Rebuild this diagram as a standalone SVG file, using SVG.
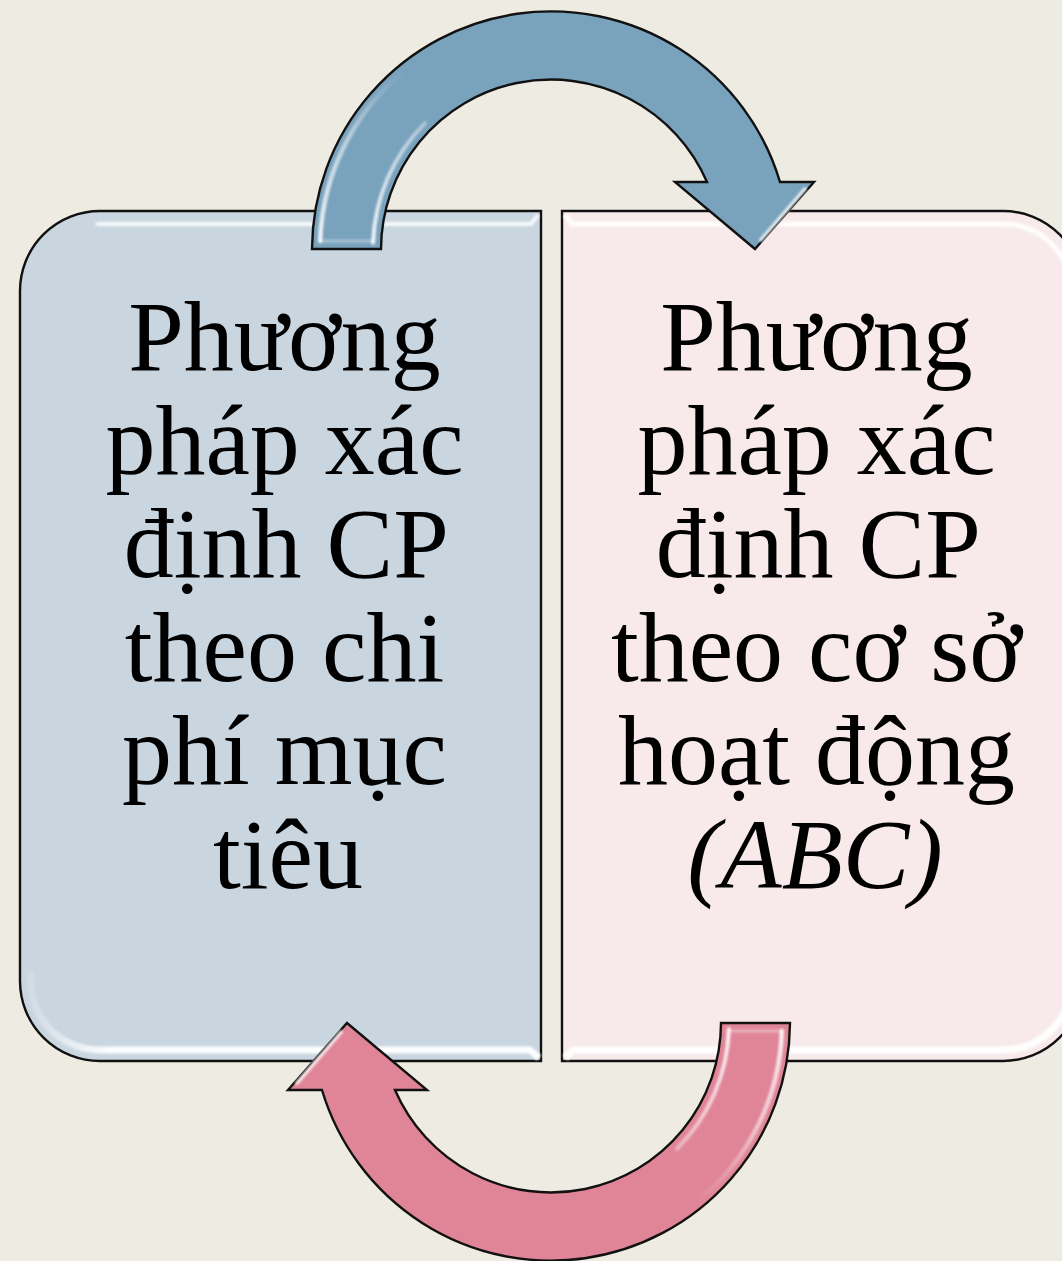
<svg xmlns="http://www.w3.org/2000/svg" width="1062" height="1261" viewBox="0 0 1062 1261">
  <defs>
    <style>
      .box { stroke: #111; stroke-width: 2.4; }
      .label { font-family: "Liberation Serif", "Times New Roman", serif; font-size: 100px; fill: #000; text-anchor: middle; }
      .arrow { stroke: #111; stroke-width: 2.4; stroke-linejoin: miter; }
      .gloss { fill: none; stroke-linecap: round; }
    </style>
    <!-- fade used by the glossy streaks on the curved arrows -->
    <linearGradient id="streakFade" gradientUnits="userSpaceOnUse" x1="0" y1="245" x2="0" y2="70">
      <stop offset="0" stop-color="#fff" stop-opacity="0.9"/>
      <stop offset="0.6" stop-color="#fff" stop-opacity="0.5"/>
      <stop offset="1" stop-color="#fff" stop-opacity="0"/>
    </linearGradient>
    <linearGradient id="edgeFadeL" gradientUnits="userSpaceOnUse" x1="30" y1="0" x2="110" y2="0">
      <stop offset="0" stop-color="#fff" stop-opacity="0.15"/>
      <stop offset="1" stop-color="#fff" stop-opacity="0.95"/>
    </linearGradient>
    <filter id="soft" x="-5%" y="-5%" width="110%" height="110%">
      <feGaussianBlur stdDeviation="1.2"/>
    </filter>
  </defs>

  <!-- page background -->
  <rect x="0" y="0" width="1062" height="1261" fill="#eeebe3"/>

  <!-- left panel -->
  <g id="node-target-cost">
    <path class="box" fill="#c9d6e0" d="M100,211 H541 V1061 H100 A80,80 0 0 1 20,981 V291 A80,80 0 0 1 100,211 Z"/>
    <g filter="url(#soft)">
      <path d="M96,224 H531 L538,215" fill="none" stroke="#fff" stroke-opacity="0.85" stroke-width="4"/>
      <path d="M31,972 A69,69 0 0 0 100,1050 H530 L539,1058" fill="none" stroke="url(#edgeFadeL)" stroke-width="7"/>
    </g>
    <text class="label">
      <tspan x="297" y="370">Phương</tspan>
      <tspan x="297" y="473.5">pháp xác</tspan>
      <tspan x="297" y="577">định CP</tspan>
      <tspan x="297" y="680.5">theo chi</tspan>
      <tspan x="297" y="784">phí mục</tspan>
      <tspan x="288" y="887.5">tiêu</tspan>
    </text>
  </g>

  <!-- right panel -->
  <g id="node-abc">
    <path class="box" fill="#f8eaeb" d="M562,211 H1003 A80,80 0 0 1 1083,291 V981 A80,80 0 0 1 1003,1061 H562 Z"/>
    <g filter="url(#soft)">
      <path d="M565,215 L572,224 H1003 A69,69 0 0 1 1072,293" fill="none" stroke="#fff" stroke-opacity="0.9" stroke-width="5"/>
      <path d="M565,1058 L573,1050 H1003 A69,69 0 0 0 1072,981" fill="none" stroke="#fff" stroke-opacity="0.95" stroke-width="7"/>
    </g>
    <text class="label">
      <tspan x="829" y="370">Phương</tspan>
      <tspan x="829" y="473.5">pháp xác</tspan>
      <tspan x="829" y="577">định CP</tspan>
      <tspan x="829" y="680.5">theo cơ sở</tspan>
      <tspan x="829" y="784">hoạt động</tspan>
      <tspan x="815" y="887.5" font-style="italic">(ABC)</tspan>
    </text>
  </g>

  <!-- curved connectors between the two panels -->
  <g id="connectors">
    <g id="arrow-top">
      <path class="arrow" fill="#79a2bd" d="M312,249 A239,239 0 0 1 780,182 L814,182 L755,249 L675,182 L707,182 A170,170 0 0 0 381,249 Z"/>
      <g filter="url(#soft)">
        <path class="gloss" stroke="url(#streakFade)" stroke-width="4.5" d="M320.1,241 A231,231 0 0 1 418.5,59.8"/>
        <path class="gloss" stroke="url(#streakFade)" stroke-width="4" d="M373.1,242.8 A178,178 0 0 1 425.1,123.1"/>
        <path class="gloss" stroke="#fff" stroke-opacity="0.75" stroke-width="4" d="M805,189 L761,240"/>
        <path class="gloss" stroke="#fff" stroke-opacity="0.35" stroke-width="3" d="M322,241 H372"/>
      </g>
    </g>
    <g id="arrow-bottom" transform="rotate(180 551 636)">
      <path class="arrow" fill="#e08597" d="M312,249 A239,239 0 0 1 780,182 L814,182 L755,249 L675,182 L707,182 A170,170 0 0 0 381,249 Z"/>
      <g filter="url(#soft)">
        <path class="gloss" stroke="url(#streakFade)" stroke-width="4.5" d="M320.1,241 A231,231 0 0 1 418.5,59.8"/>
        <path class="gloss" stroke="url(#streakFade)" stroke-width="4" d="M373.1,242.8 A178,178 0 0 1 425.1,123.1"/>
        <path class="gloss" stroke="#fff" stroke-opacity="0.75" stroke-width="4" d="M805,189 L761,240"/>
        <path class="gloss" stroke="#fff" stroke-opacity="0.35" stroke-width="3" d="M322,241 H372"/>
      </g>
    </g>
  </g>
</svg>
